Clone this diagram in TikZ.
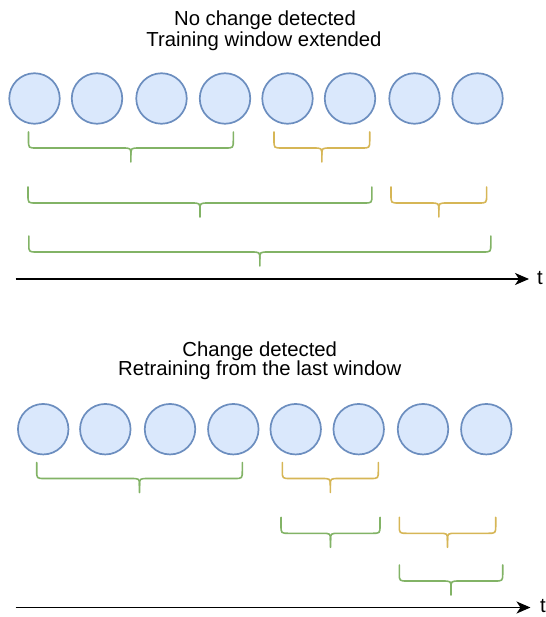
\documentclass[tikz,border=0pt]{standalone}
\usepackage{fontspec}
\setmainfont{Liberation Sans}
\usetikzlibrary{arrows.meta}
\definecolor{cfill}{HTML}{DAE8FC}
\definecolor{cdraw}{HTML}{6C8EBF}
\definecolor{bgreen}{HTML}{82B366}
\definecolor{byellow}{HTML}{D6B656}
\newcommand{\cbrace}[4]{%
  \pgfmathsetmacro{\bc}{(#1+#2)/2}%
  \pgfmathsetmacro{\bh}{#3+16}%
  \pgfmathsetmacro{\bt}{#3+30}%
  \draw[bracestyle,#4] (#1,#3) -- (#1,\bh-8) .. controls (#1,\bh) .. (#1+8,\bh) -- (\bc-9,\bh) .. controls (\bc,\bh) .. (\bc,\bh+7) -- (\bc,\bt);
  \draw[bracestyle,#4] (#2,#3) -- (#2,\bh-8) .. controls (#2,\bh) .. (#2-8,\bh) -- (\bc+9,\bh) .. controls (\bc,\bh) .. (\bc,\bh+7);
}
\begin{document}
\begin{tikzpicture}[x=1pt,y=-1pt,
  win/.style={circle,draw=cdraw,fill=cfill,line width=1.7pt,minimum size=50.5pt,inner sep=0pt},
  bracestyle/.style={line width=1.6pt,line cap=round,line join=round},
  title/.style={font=\fontsize{20.3}{22}\selectfont,anchor=base,inner sep=0pt},
  timeaxis/.style={line width=1.6pt,-{Stealth[length=14pt,width=12pt,inset=4pt]}},
  tlabel/.style={font=\fontsize{20.3}{22}\selectfont,inner sep=0pt}]
\useasboundingbox (0,0) rectangle (545,617);
% top section
\node[title] (ta) at (265,25.7) {No change detected};
\node[title] (tb) at (264,46.7) {Training window extended};
\foreach \i/\x in {1/34.5,2/97,3/161.5,4/225,5/287.5,6/350,7/414.5,8/477.5}
  \node[win] (u\i) at (\x,98.5) {};
\cbrace{28.5}{233.3}{132}{bgreen}
\cbrace{274}{369.7}{132}{byellow}
\cbrace{28}{371.9}{187}{bgreen}
\cbrace{391}{486.6}{187}{byellow}
\cbrace{28.8}{490.8}{236}{bgreen}
\coordinate (ua0) at (15.7,279);
\coordinate (ua1) at (529,279);
\draw[timeaxis] (ua0) -- (ua1);
\node[tlabel] (ut) at (540,278) {t};
% bottom section
\node[title] (tc) at (259.7,356) {Change detected};
\node[title] (td) at (259.7,375.7) {Retraining from the last window};
\foreach \i/\x in {1/43.2,2/105.3,3/170,4/233.3,5/295.7,6/358.7,7/423,8/486.3}
  \node[win] (l\i) at (\x,429.2) {};
\cbrace{36.7}{242.3}{462.5}{bgreen}
\cbrace{282.3}{378.3}{462.5}{byellow}
\cbrace{281}{380}{517.3}{bgreen}
\cbrace{399.3}{495.7}{517.3}{byellow}
\cbrace{399.3}{502.7}{565}{bgreen}
\coordinate (la0) at (15.7,607.5);
\coordinate (la1) at (530.5,607.5);
\draw[timeaxis] (la0) -- (la1);
\node[tlabel] (lt) at (543,606.5) {t};
\end{tikzpicture}
\end{document}
